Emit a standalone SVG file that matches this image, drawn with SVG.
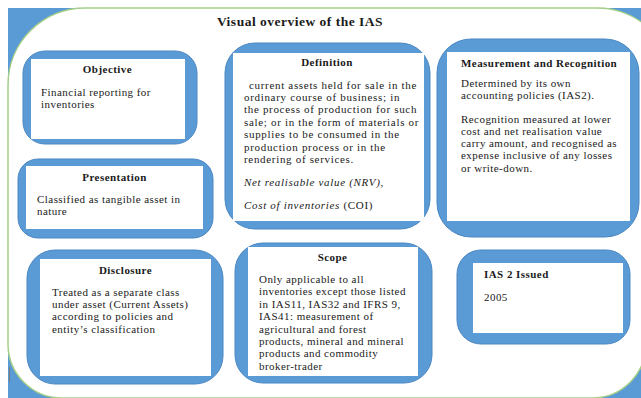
<svg xmlns="http://www.w3.org/2000/svg" width="641" height="398" viewBox="0 0 641 398">
<defs>
<style>
.frame{fill:#5B9BD5;stroke:#4A87C2;stroke-width:1}
.inner{fill:#FFFFFF}
.t{font-family:"Liberation Serif","Times New Roman",serif;font-size:11px;letter-spacing:0.45px;fill:#1A1A1A}
.h{font-family:"Liberation Serif","Times New Roman",serif;font-size:11px;letter-spacing:0.45px;font-weight:bold;fill:#1A1A1A}
.w{letter-spacing:0.68px}
.m{text-anchor:middle}
.i{font-style:italic}
</style>
</defs>
<rect x="0" y="0" width="641" height="398" fill="#FFFFFF"/>
<rect x="8" y="8" width="640" height="395" fill="#5B9BD5"/>
<path d="M8 85 A77 77 0 0 1 85 8 L597 8 A77 77 0 0 1 674 85 L646 344 A54 54 0 0 1 592 398 L62 398 A54 54 0 0 1 8 344 Z" fill="#FFFFFF" stroke="#A5CF88" stroke-width="1.5"/>
<line x1="9.5" y1="367" x2="9.5" y2="382" stroke="#7A7A7A" stroke-width="1"/>
<text class="h m" x="300" y="26" style="font-size:13.5px;letter-spacing:0.5px">Visual overview of the IAS</text>

<g id="connectors"/>

<g id="objective">
<rect class="frame" x="23" y="51" width="174" height="93" rx="22"/>
<rect class="inner" x="31" y="59" width="154" height="80"/>
<text class="h m" x="107.5" y="73.3">Objective</text>
<text class="t" x="41" y="95.5">Financial reporting for</text>
<text class="t" x="41" y="107.8">inventories</text>
</g>

<g id="presentation">
<rect class="frame" x="18" y="159" width="195" height="79" rx="20"/>
<rect class="inner" x="26" y="166" width="177" height="63"/>
<text class="h m" x="114.5" y="180.5">Presentation</text>
<text class="t" x="37" y="202.7">Classified as tangible asset in</text>
<text class="t" x="37" y="215">nature</text>
</g>

<g id="disclosure">
<rect class="frame" x="27" y="250" width="196" height="134" rx="28"/>
<rect class="inner" x="40" y="259" width="171" height="117"/>
<text class="h m" x="125.5" y="273.5">Disclosure</text>
<text class="t" x="52" y="295.7">Treated as a separate class</text>
<text class="t" x="52" y="308">under asset (Current Assets)</text>
<text class="t" x="52" y="320.3">according to policies and</text>
<text class="t" x="52" y="332.6">entity’s classification</text>
</g>

<g id="definition">
<rect class="frame" x="225" y="43" width="205" height="186" rx="30"/>
<rect class="inner" x="233" y="53" width="191" height="168"/>
<text class="h m" x="327" y="66">Definition</text>
<text class="t w" x="249" y="88.5">current assets held for sale in the</text>
<text class="t w" x="244" y="100.9">ordinary course of business; in</text>
<text class="t w" x="244" y="113.3">the process of production for such</text>
<text class="t w" x="244" y="125.7">sale; or in the form of materials or</text>
<text class="t w" x="244" y="138.1">supplies to be consumed in the</text>
<text class="t w" x="244" y="150.5">production process or in the</text>
<text class="t w" x="244" y="162.9">rendering of services.</text>
<text class="t w" x="244" y="185.5"><tspan class="i">Net realisable value (NRV)</tspan>,</text>
<text class="t w" x="244" y="208.5"><tspan class="i">Cost of inventories </tspan>(COI)</text>
</g>

<g id="measurement">
<rect class="frame" x="437" y="39" width="202" height="198" rx="34"/>
<rect class="inner" x="447" y="52" width="183" height="169"/>
<text class="h" x="461" y="66.5">Measurement and Recognition</text>
<text class="t" x="461" y="86.5">Determined by its own</text>
<text class="t" x="461" y="98.8">accounting policies (IAS2).</text>
<text class="t" x="461" y="122.5">Recognition measured at lower</text>
<text class="t" x="461" y="134.8">cost and net realisation value</text>
<text class="t" x="461" y="147.1">carry amount, and recognised as</text>
<text class="t" x="461" y="159.4">expense inclusive of any losses</text>
<text class="t" x="461" y="171.7">or write-down.</text>
</g>

<g id="scope">
<rect class="frame" x="235" y="243" width="197" height="140" rx="28"/>
<rect class="inner" x="248" y="247" width="170" height="129"/>
<text class="h m" x="332.5" y="261">Scope</text>
<text class="t" x="259" y="283">Only applicable to all</text>
<text class="t" x="259" y="295.3">inventories except those listed</text>
<text class="t" x="259" y="307.7">in IAS11, IAS32 and IFRS 9,</text>
<text class="t" x="259" y="320.1">IAS41: measurement of</text>
<text class="t" x="259" y="332.5">agricultural and forest</text>
<text class="t" x="259" y="344.9">products, mineral and mineral</text>
<text class="t" x="259" y="357.3">products and commodity</text>
<text class="t" x="259" y="369.7">broker-trader</text>
</g>

<g id="ias2">
<rect class="frame" x="457" y="250" width="173" height="94" rx="24"/>
<rect class="inner" x="473" y="263" width="150" height="70"/>
<text class="h" x="484" y="277.5">IAS 2 Issued</text>
<text class="t" x="484" y="300.7">2005</text>
</g>
</svg>
